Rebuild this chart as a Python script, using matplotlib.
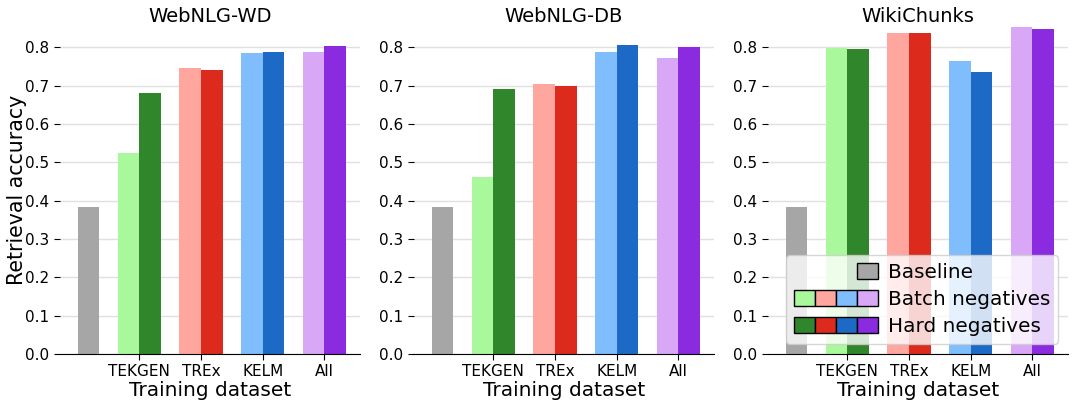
import matplotlib
matplotlib.use("Agg")
import matplotlib.pyplot as plt
from matplotlib.patches import Patch
from matplotlib.legend_handler import HandlerTuple
import numpy as np

# data
panels = ["WebNLG-WD", "WebNLG-DB", "WikiChunks"]
categories = ["TEKGEN", "TREx", "KELM", "All"]
baseline = [0.383, 0.383, 0.383]
batch_neg = [
    [0.525, 0.745, 0.786, 0.789],
    [0.462, 0.704, 0.789, 0.771],
    [0.797, 0.836, 0.763, 0.852],
]
hard_neg = [
    [0.680, 0.742, 0.788, 0.803],
    [0.691, 0.699, 0.806, 0.800],
    [0.795, 0.836, 0.735, 0.847],
]

light_colors = ["#a9f99c", "#ffa69e", "#80bdfc", "#d8a8f7"]
dark_colors = ["#2f862b", "#dc2b1c", "#1c6ac6", "#8a2be0"]
gray = "#a6a6a6"

W = 0.35

fig, axes = plt.subplots(1, 3, figsize=(10.75, 4.07), dpi=100)
fig.subplots_adjust(left=0.0558, right=0.9935, bottom=0.1302, top=0.9356, wspace=0.18)

x = np.arange(1, len(categories) + 1)
for i, ax in enumerate(axes):
    ax.bar(0 + W / 2, baseline[i], W, color=gray, zorder=2)
    ax.bar(x - W / 2, batch_neg[i], W, color=light_colors, zorder=2)
    ax.bar(x + W / 2, hard_neg[i], W, color=dark_colors, zorder=2)

    ax.set_xlim(-0.285, 4.577)
    ax.set_ylim(0, 0.855)
    ax.set_yticks(np.arange(0, 0.81, 0.1))
    ax.set_yticklabels(["%.1f" % v for v in np.arange(0, 0.81, 0.1)])
    ax.set_xticks(x)
    ax.set_xticklabels(categories)
    ax.tick_params(labelsize=11, length=4)
    ax.yaxis.grid(True, color="#e0e0e0", linewidth=1)
    ax.set_axisbelow(True)
    for s in ["top", "right", "left"]:
        ax.spines[s].set_visible(False)
    ax.set_title(panels[i], fontsize=14, pad=3)
    ax.set_xlabel("Training dataset", fontsize=14.5, labelpad=1)

axes[0].set_ylabel("Retrieval accuracy", fontsize=14.8, labelpad=-1)

# legend with multi-colour handles
blank = Patch(facecolor="none", edgecolor="none")
h_base = (blank, blank, blank, Patch(facecolor=gray, edgecolor="black"))
h_batch = tuple(Patch(facecolor=c, edgecolor="black") for c in light_colors)
h_hard = tuple(Patch(facecolor=c, edgecolor="black") for c in dark_colors)
axes[2].legend([h_base, h_batch, h_hard], ["Baseline", "Batch negatives", "Hard negatives"],
               handler_map={tuple: HandlerTuple(ndivide=None, pad=0)},
               loc="lower right", fontsize=14.4, handlelength=4.2, handleheight=0.85,
               handletextpad=0.5, labelspacing=0.4)

fig.savefig("out.png", dpi=100)
